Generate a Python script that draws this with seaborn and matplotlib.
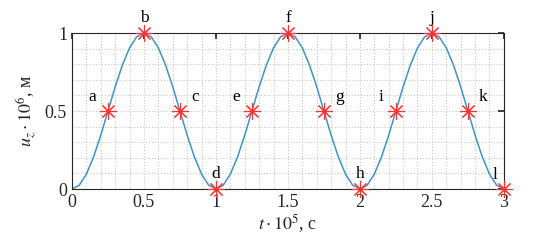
import numpy as np
import pandas as pd
import seaborn as sns
import matplotlib
matplotlib.use('Agg')
import matplotlib.pyplot as plt
from matplotlib.ticker import MultipleLocator

# curve, step 0.05
t_curve = [0.00, 0.05, 0.10, 0.15, 0.20, 0.25, 0.30, 0.35, 0.40, 0.45,
           0.50, 0.55, 0.60, 0.65, 0.70, 0.75, 0.80, 0.85, 0.90, 0.95,
           1.00, 1.05, 1.10, 1.15, 1.20, 1.25, 1.30, 1.35, 1.40, 1.45,
           1.50, 1.55, 1.60, 1.65, 1.70, 1.75, 1.80, 1.85, 1.90, 1.95,
           2.00, 2.05, 2.10, 2.15, 2.20, 2.25, 2.30, 2.35, 2.40, 2.45,
           2.50, 2.55, 2.60, 2.65, 2.70, 2.75, 2.80, 2.85, 2.90, 2.95, 3.00]
u_curve = [0.000, 0.024, 0.095, 0.206, 0.345, 0.500, 0.655, 0.794, 0.905, 0.976,
           1.000, 0.976, 0.905, 0.794, 0.655, 0.500, 0.345, 0.206, 0.095, 0.024,
           0.000, 0.024, 0.095, 0.206, 0.345, 0.500, 0.655, 0.794, 0.905, 0.976,
           1.000, 0.976, 0.905, 0.794, 0.655, 0.500, 0.345, 0.206, 0.095, 0.024,
           0.000, 0.024, 0.095, 0.206, 0.345, 0.500, 0.655, 0.794, 0.905, 0.976,
           1.000, 0.976, 0.905, 0.794, 0.655, 0.500, 0.345, 0.206, 0.095, 0.024, 0.000]

# marked points
t_pts = [0.25, 0.5, 0.75, 1.0, 1.25, 1.5, 1.75, 2.0, 2.25, 2.5, 2.75, 3.0]
u_pts = [0.5, 1.0, 0.5, 0.0, 0.5, 1.0, 0.5, 0.0, 0.5, 1.0, 0.5, 0.0]
pt_labels = ['a', 'b', 'c', 'd', 'e', 'f', 'g', 'h', 'i', 'j', 'k', 'l']
# where each label sits relative to its point
label_side = ['left', 'top', 'right', 'top', 'left', 'top', 'right', 'top',
              'left', 'top', 'right', 'topleft']

x_ticks = [0, 0.5, 1, 1.5, 2, 2.5, 3]
x_ticklabels = ['0', '0.5', '1', '1.5', '2', '2.5', '3']
y_ticks = [0, 0.5, 1]
y_ticklabels = ['0', '0.5', '1']

sns.set_theme(style='white')
plt.rcParams['font.family'] = ['Liberation Serif', 'DejaVu Serif']
plt.rcParams['mathtext.fontset'] = 'stix'

curve = pd.DataFrame({'t': t_curve, 'u': u_curve})
pts = pd.DataFrame({'t': t_pts, 'u': u_pts})

fig = plt.figure(figsize=(5.58, 2.5), dpi=100)
ax = fig.add_axes([0.129, 0.244, 0.774, 0.624])

sns.lineplot(data=curve, x='t', y='u', ax=ax, color='#3d94cf', linewidth=1.1)
ax.plot(pts['t'], pts['u'], linestyle='none', marker=(8, 2, 0), markersize=12,
        markeredgecolor='#ff3030', markeredgewidth=0.8, clip_on=False, zorder=5)

offsets = {'left': (-11, 10), 'right': (11, 10), 'top': (0, 11), 'topleft': (-6, 10)}
for x, y, s, side in zip(t_pts, u_pts, pt_labels, label_side):
    dx, dy = offsets[side]
    ax.annotate(s, (x, y), xytext=(dx, dy), textcoords='offset points',
                ha='center', va='center', fontsize=12.5, color='black')

ax.set_xlim(0, 3)
ax.set_ylim(0, 1)
ax.set_xticks(x_ticks)
ax.set_xticklabels(x_ticklabels)
ax.set_yticks(y_ticks)
ax.set_yticklabels(y_ticklabels)
ax.xaxis.set_minor_locator(MultipleLocator(0.1))
ax.yaxis.set_minor_locator(MultipleLocator(0.1))
ax.grid(which='both', linestyle=':', color='#c8c8c8', linewidth=0.8)
ax.tick_params(which='major', direction='in', length=4, labelsize=13,
               top=True, right=True, colors='#262626', labelcolor='#262626')
ax.tick_params(which='minor', length=0)
for sp in ax.spines.values():
    sp.set_color('#262626')
    sp.set_linewidth(0.8)

ax.set_xlabel(r'$t\cdot10^5$, с', fontsize=13, labelpad=1)
ax.set_ylabel(r'$u_z\cdot10^6$, м', fontsize=13, labelpad=4)

fig.savefig('out.png', dpi=100)
